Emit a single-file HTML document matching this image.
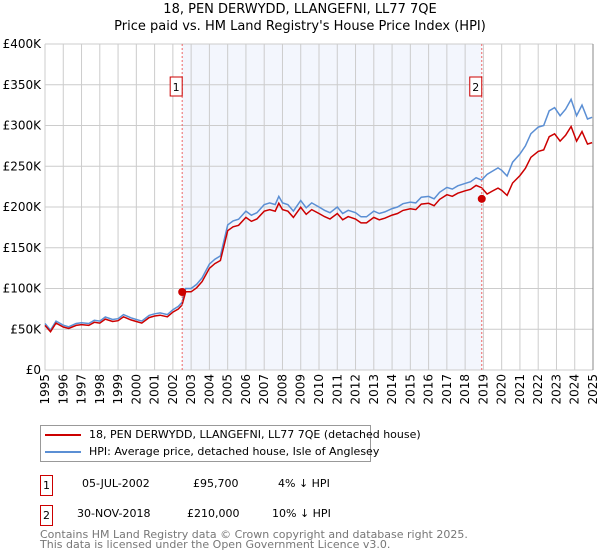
<!DOCTYPE html>
<html><head><meta charset="utf-8"><style>
body{margin:0;background:#fff;font-family:"DejaVu Sans","Liberation Sans",sans-serif;}
#wrap{position:relative;width:600px;height:560px;overflow:hidden}
.t{position:absolute;white-space:nowrap;color:#000}
</style></head><body><div id="wrap">
<div class="t" style="left:0;width:600px;text-align:center;top:2px;font-size:13px">18, PEN DERWYDD, LLANGEFNI, LL77 7QE</div>
<div class="t" style="left:0;width:600px;text-align:center;top:19px;font-size:13px">Price paid vs. HM Land Registry's House Price Index (HPI)</div>
<svg id="chart" width="600" height="415" style="position:absolute;left:0;top:0" font-family="DejaVu Sans, Liberation Sans, sans-serif"></svg>
<div style="position:absolute;left:40px;top:425px;width:329px;height:35px;border:1px solid #999;font-size:11px">
<div style="position:absolute;left:4px;top:2px;white-space:nowrap"><span style="display:inline-block;width:36px;height:2px;background:#cc0000;vertical-align:middle;margin-right:8px"></span>18, PEN DERWYDD, LLANGEFNI, LL77 7QE (detached house)</div>
<div style="position:absolute;left:4px;top:19px;white-space:nowrap"><span style="display:inline-block;width:36px;height:2px;background:#5b8fd4;vertical-align:middle;margin-right:8px"></span>HPI: Average price, detached house, Isle of Anglesey</div>
</div>
<div style="position:absolute;left:40px;top:475px;width:11px;height:19px;border:1px solid #cc0000;font-size:11px;text-align:center;line-height:19px">1</div>
<div class="t" style="left:82px;top:477px;font-size:11px">05-JUL-2002</div>
<div class="t" style="left:193px;top:477px;font-size:11px">£95,700</div>
<div class="t" style="left:278px;top:477px;font-size:11px">4% ↓ HPI</div>
<div style="position:absolute;left:40px;top:505px;width:11px;height:19px;border:1px solid #cc0000;font-size:11px;text-align:center;line-height:19px">2</div>
<div class="t" style="left:77px;top:507px;font-size:11px">30-NOV-2018</div>
<div class="t" style="left:187px;top:507px;font-size:11px">£210,000</div>
<div class="t" style="left:272px;top:507px;font-size:11px">10% ↓ HPI</div>
<div class="t" style="left:40px;top:530px;font-size:11px;color:#777;line-height:10px">Contains HM Land Registry data © Crown copyright and database right 2025.<br>This data is licensed under the Open Government Licence v3.0.</div>
</div>
<script>
const hpiYears=[1995,1995.3,1995.6,1996,1996.3,1996.7,1997,1997.4,1997.7,1998,1998.3,1998.7,1999,1999.3,1999.7,2000,2000.3,2000.7,2001,2001.3,2001.7,2002,2002.3,2002.5,2002.7,2003,2003.3,2003.6,2004,2004.3,2004.6,2005,2005.3,2005.6,2006,2006.3,2006.6,2007,2007.3,2007.6,2007.8,2008,2008.3,2008.6,2009,2009.3,2009.6,2010,2010.3,2010.6,2011,2011.3,2011.6,2012,2012.3,2012.6,2013,2013.3,2013.6,2014,2014.3,2014.6,2015,2015.3,2015.6,2016,2016.3,2016.6,2017,2017.3,2017.6,2018,2018.3,2018.6,2018.9,2019.2,2019.5,2019.8,2020,2020.3,2020.6,2021,2021.3,2021.6,2022,2022.3,2022.6,2022.9,2023.2,2023.5,2023.8,2024.1,2024.4,2024.7,2024.95];
const hpiValues=[57,49,60,55,53,57,58,57,61,60,65,62,63,68,64,62,60,67,69,70,68,74,78,83,100,100,105,113,130,136,140,178,183,185,195,190,193,203,205,203,213,205,203,195,208,199,205,200,196,193,200,192,196,193,188,188,195,192,194,198,200,204,206,205,212,213,210,218,224,222,226,229,231,236,233,240,244,248,245,238,255,265,275,290,298,300,318,322,312,320,332,312,325,308,310];
const hpiTicks=[0,50,100,150,200,250,300,350,400];
const tickLabels=["£0","£50K","£100K","£150K","£200K","£250K","£300K","£350K","£400K"];
const saleYears=[2002.51,2018.91];
const salePrices=[95.7,210];
const salePctBelow=[4,10];
const saleLabels=["1","2"];
const yearTicks=[1995,1996,1997,1998,1999,2000,2001,2002,2003,2004,2005,2006,2007,2008,2009,2010,2011,2012,2013,2014,2015,2016,2017,2018,2019,2020,2021,2022,2023,2024,2025];
const X0=45,X1=593,Y0=370,Y1=44;
const xs=y=>X0+(y-1995)/30*(X1-X0);
const ys=v=>Y0-v/400*(Y0-Y1);
const svg=document.getElementById('chart');const NS='http://www.w3.org/2000/svg';
function mk(t,a,p){const e=document.createElementNS(NS,t);for(const k in a)e.setAttribute(k,a[k]);(p||svg).appendChild(e);return e;}
let e=mk('rect',{x:X0,y:Y1,width:X1-X0,height:Y0-Y1,fill:'#fff'});


e=mk('rect',{x:xs(saleYears[0]),y:Y1,width:xs(saleYears[1])-xs(saleYears[0]),height:Y0-Y1,fill:'#f3f6fd'});


yearTicks.forEach((yr,i)=>{
 const l=mk('line',{x1:xs(yr),x2:xs(yr),y1:Y1,y2:Y0,stroke:'#ccc','stroke-width':1});
 
 
 const t=mk('text',{x:0,y:0,'font-size':12,'text-anchor':'end',transform:`translate(${xs(yr)+4},${Y0+4}) rotate(-90)`});
 t.textContent=yr;
 
 
});
hpiTicks.forEach((v,i)=>{
 const l=mk('line',{x1:X0,x2:X1,y1:ys(v),y2:ys(v),stroke:'#ccc','stroke-width':1});
 
 
 const t=mk('text',{x:X0-4,y:ys(v)+4,'font-size':12,'text-anchor':'end'});
 t.textContent=tickLabels[i];
 
 
});
let d=hpiYears.map((y,i)=>(i?'L':'M')+xs(y).toFixed(1)+','+ys(hpiValues[i]).toFixed(1)).join('');
e=mk('path',{d,fill:'none',stroke:'#5b8fd4','stroke-width':1.5});


const ratios=salePctBelow.map(p=>1-p/100);
d=hpiYears.map((y,i)=>{const r=y<saleYears[1]?ratios[0]:ratios[1];return (i?'L':'M')+xs(y).toFixed(1)+','+ys(hpiValues[i]*r).toFixed(1);}).join('');
e=mk('path',{d,fill:'none',stroke:'#cc0000','stroke-width':1.5});


saleYears.forEach((y,i)=>{
 const l=mk('line',{x1:xs(y),x2:xs(y),y1:Y1,y2:Y0,stroke:'#e66','stroke-width':1,'stroke-dasharray':'2,2'});
 
 
 const c=mk('circle',{cx:xs(y),cy:ys(salePrices[i]),r:4,fill:'#cc0000'});
 
 
 const b=mk('rect',{x:xs(y)-12,y:77,width:12,height:19,fill:'#fff',stroke:'#cc0000'});
 
 
 const t=mk('text',{x:xs(y)-6,y:91,'font-size':11,'text-anchor':'middle'});
 t.textContent=saleLabels[i];
 
 
});
e=mk('line',{x1:X1,x2:X1,y1:Y1,y2:Y0,stroke:'#888','stroke-width':1});


</script>
</body></html>
